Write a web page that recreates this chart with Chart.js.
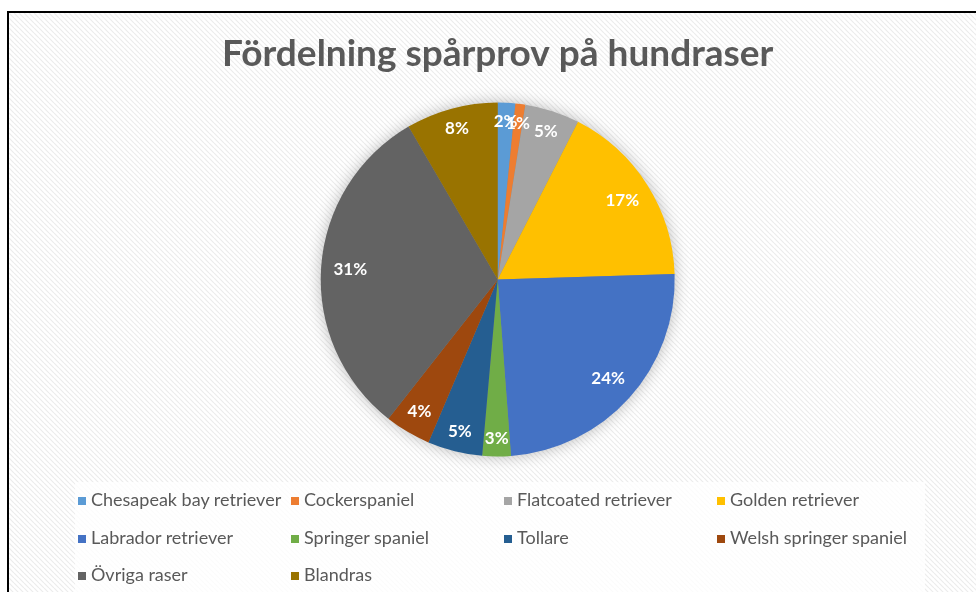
<!DOCTYPE html>
<html>
<head>
<meta charset="utf-8">
<script src="https://cdn.jsdelivr.net/npm/chart.js@4/dist/chart.umd.min.js"></script>
<style>
    html, body { margin: 0; padding: 0; width: 976px; height: 592px; overflow: hidden; background: #fff; }
    #frame {
        position: absolute; left: 7px; top: 11px; width: 1000px; height: 600px;
        border-left: 2px solid #000; border-top: 2px solid #000; background-color: #fff;
    }
    #legendBox {
        position: absolute; left: 75px; top: 482px; width: 850px; height: 120px;
        background: rgba(255, 255, 255, 0.8);
    }
    #spar { position: absolute; left: 0; top: 0; }
    .item {
        position: absolute; height: 20px; line-height: 20px; white-space: nowrap;
        font-family: Lato, "Open Sans", sans-serif; font-size: 18px; color: #595959;
    }
    .item span.box { display: inline-block; width: 8px; height: 8px; margin-right: 5px; vertical-align: 1px; }
</style>
</head>
<body>
<div id="frame"></div>
<div id="legendBox"></div>
<canvas id="spar" width="976" height="592"></canvas>
<div id="legend"></div>
<script>

//
//
// Fördelning spårprov - data
var breeds = ['Chesapeak bay retriever', 'Cockerspaniel', 'Flatcoated retriever', 'Golden retriever',
    'Labrador retriever', 'Springer spaniel', 'Tollare', 'Welsh springer spaniel', 'Övriga raser', 'Blandras'];
var shares = [1.6, 0.9, 5.0, 17.0, 24.3, 2.6, 5.0, 4.2, 31.0, 8.4];
var breed_colors = ['#5B9BD5', '#ED7D31', '#A5A5A5', '#FFC000', '#4472C4',
    '#70AD47', '#255E91', '#9E480E', '#636363', '#997300'];
var chart_title = 'Fördelning spårprov på hundraser';

//
// Faint diagonal hatch behind the chart
var tile = document.createElement('canvas');
tile.width = 5; tile.height = 5;
var t = tile.getContext('2d');
t.fillStyle = '#fff';
t.fillRect(0, 0, 5, 5);
t.strokeStyle = '#ececec';
t.lineWidth = 1.2;
[-5, 0, 5].forEach(function(o) {
    t.beginPath();
    t.moveTo(o, 0);
    t.lineTo(o + 5, 5);
    t.stroke();
});
document.getElementById('frame').style.backgroundImage = 'url(' + tile.toDataURL() + ')';

//
// Soft shadow under the pie
var pieShadow = {
    id: 'pieShadow',
    beforeDatasetsDraw: function(chart) {
        var arc = chart.getDatasetMeta(0).data[0];
        if (!arc) return;
        var ctx = chart.ctx;
        ctx.save();
        ctx.shadowColor = 'rgba(0,0,0,0.3)';
        ctx.shadowBlur = 16;
        ctx.fillStyle = '#888';
        ctx.beginPath();
        ctx.arc(arc.x, arc.y, arc.outerRadius - 1, 0, Math.PI * 2);
        ctx.fill();
        ctx.restore();
    }
};

//
// Percent labels inside the slices
var pieLabels = {
    id: 'pieLabels',
    afterDatasetsDraw: function(chart) {
        var ctx = chart.ctx;
        var values = chart.data.datasets[0].data;
        var total = values.reduce(function(a, b) { return a + b; }, 0);
        ctx.save();
        ctx.font = 'bold 17px Lato, "Open Sans", sans-serif';
        ctx.fillStyle = '#fff';
        ctx.textAlign = 'center';
        ctx.textBaseline = 'middle';
        chart.getDatasetMeta(0).data.forEach(function(arc, i) {
            var txt = Math.round(values[i] / total * 100) + '%';
            var mid = (arc.startAngle + arc.endAngle) / 2;
            var w = ctx.measureText(txt).width;
            var ext = Math.abs(Math.cos(mid)) * w / 2 + Math.abs(Math.sin(mid)) * 6;
            var d = arc.outerRadius - 12 - ext;
            ctx.fillText(txt, arc.x + Math.cos(mid) * d, arc.y + Math.sin(mid) * d);
        });
        ctx.restore();
    }
};

//
// Draw Chart
var spar = document.getElementById('spar').getContext('2d');
new Chart(spar, {
    type: 'pie',
    data: {
        labels: breeds,
        datasets: [{
            data: shares,
            backgroundColor: breed_colors,
            borderWidth: 0
        }]
    },
    options: {
        responsive: false,
        animation: false,
        layout: {
            padding: { top: 0, bottom: 135.5, left: 19.4, right: 0 }
        },
        plugins: {
            legend: { display: false },
            tooltip: { enabled: false },
            title: {
                display: true,
                text: chart_title,
                color: '#595959',
                font: { family: 'Lato, "Open Sans", sans-serif', size: 37, weight: 'bold', lineHeight: 1.2 },
                padding: { top: 31.4, bottom: 26.7 }
            }
        }
    },
    plugins: [pieShadow, pieLabels]
});

//
// Legend, 4 columns
var legend = document.getElementById('legend');
breeds.forEach(function(name, i) {
    var col = i % 4, row = Math.floor(i / 4);
    var el = document.createElement('div');
    el.className = 'item';
    el.style.left = (78 + col * 213) + 'px';
    el.style.top = (489 + row * 37.5) + 'px';
    el.innerHTML = '<span class="box" style="background:' + breed_colors[i] + '"></span>';
    el.appendChild(document.createTextNode(name));
    legend.appendChild(el);
});
</script>
</body>
</html>
